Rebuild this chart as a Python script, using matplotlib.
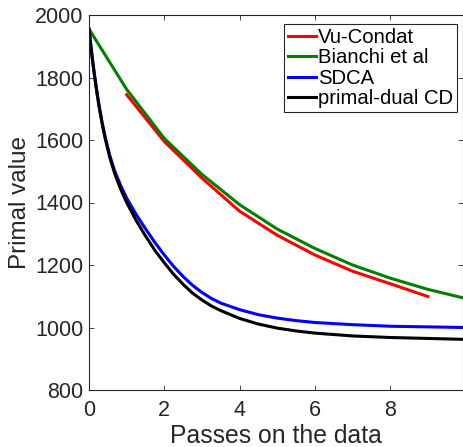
import matplotlib
matplotlib.use('Agg')
import matplotlib.pyplot as plt

# Passes over the data and primal objective for each method
x_vu = [1, 2, 3, 4, 5, 6, 7, 8, 9]
y_vu = [1745, 1595, 1478, 1372, 1295, 1232, 1180, 1140, 1099]

x_bianchi = [0, 1, 2, 3, 4, 5, 6, 7, 8, 9, 10]
y_bianchi = [1955, 1762, 1605, 1490, 1393, 1315, 1253, 1200, 1158, 1122, 1093]

x_sdca = [0, 0.05, 0.1, 0.16, 0.22, 0.27, 0.35, 0.43, 0.55, 0.69, 0.85, 1.0,
          1.25, 1.5, 1.75, 2.0, 2.25, 2.5, 2.75, 3.0, 3.25, 3.5, 4, 4.5, 5, 5.5, 6,
          7, 8, 9, 10]
y_sdca = [1955, 1900, 1849, 1795, 1746, 1708, 1655, 1609, 1551, 1498, 1452, 1414,
          1362, 1316, 1272, 1232, 1195, 1163, 1135, 1112, 1093, 1078, 1057, 1041, 1030, 1022, 1016,
          1009, 1004, 1002, 1000]

x_pdcd = [0, 0.05, 0.1, 0.16, 0.22, 0.27, 0.35, 0.43, 0.55, 0.69, 0.85, 1.0,
          1.25, 1.5, 1.75, 2.0, 2.25, 2.5, 2.75, 3.0, 3.25, 3.5, 4, 4.5, 5, 5.5, 6,
          7, 8, 9, 10]
y_pdcd = [1955, 1900, 1849, 1794, 1744, 1706, 1652, 1605, 1545, 1490, 1440, 1400,
          1343, 1293, 1247, 1207, 1170, 1138, 1110, 1088, 1069, 1054, 1029, 1011, 998, 989, 982,
          973, 968, 965, 962]

plt.rcParams['font.family'] = ['Liberation Sans', 'DejaVu Sans']
txt = '#262626'

fig = plt.figure(figsize=(4.63, 4.47), dpi=100)
ax = fig.add_axes([89 / 463, 1 - 390 / 447, 373.5 / 463, 375 / 447])

lw = 2.2
ax.plot(x_vu, y_vu, color='#ff0000', lw=lw, label='Vu-Condat')
ax.plot(x_bianchi, y_bianchi, color='#008000', lw=lw, label='Bianchi et al')
ax.plot(x_sdca, y_sdca, color='#0000ff', lw=lw, label='SDCA')
ax.plot(x_pdcd, y_pdcd, color='#000000', lw=lw, label='primal-dual CD')

ax.set_xlim(0, 9.92)
ax.set_ylim(800, 2000)
ax.set_xticks([0, 2, 4, 6, 8])
ax.set_yticks(range(800, 2001, 200))
ax.tick_params(direction='in', top=True, right=True, length=3.5, width=0.6,
               colors=txt, labelsize=15.5)
ax.tick_params(axis='x', pad=7)
ax.tick_params(axis='y', pad=4)
for s in ax.spines.values():
    s.set_color(txt)
    s.set_linewidth(0.8)

ax.set_xlabel('Passes on the data', fontsize=17.8, color=txt, labelpad=2.5)
ax.set_ylabel('Primal value', fontsize=17.5, color=txt, labelpad=3)

leg = ax.legend(loc='upper right', bbox_to_anchor=(0.9853, 0.976),
                fontsize=14.6, handlelength=1.38, handletextpad=0.08,
                labelspacing=0.07, borderpad=0.2, borderaxespad=0,
                fancybox=False, framealpha=1)
leg.get_frame().set_edgecolor(txt)
leg.get_frame().set_linewidth(0.8)

fig.savefig('out.png', dpi=100)
